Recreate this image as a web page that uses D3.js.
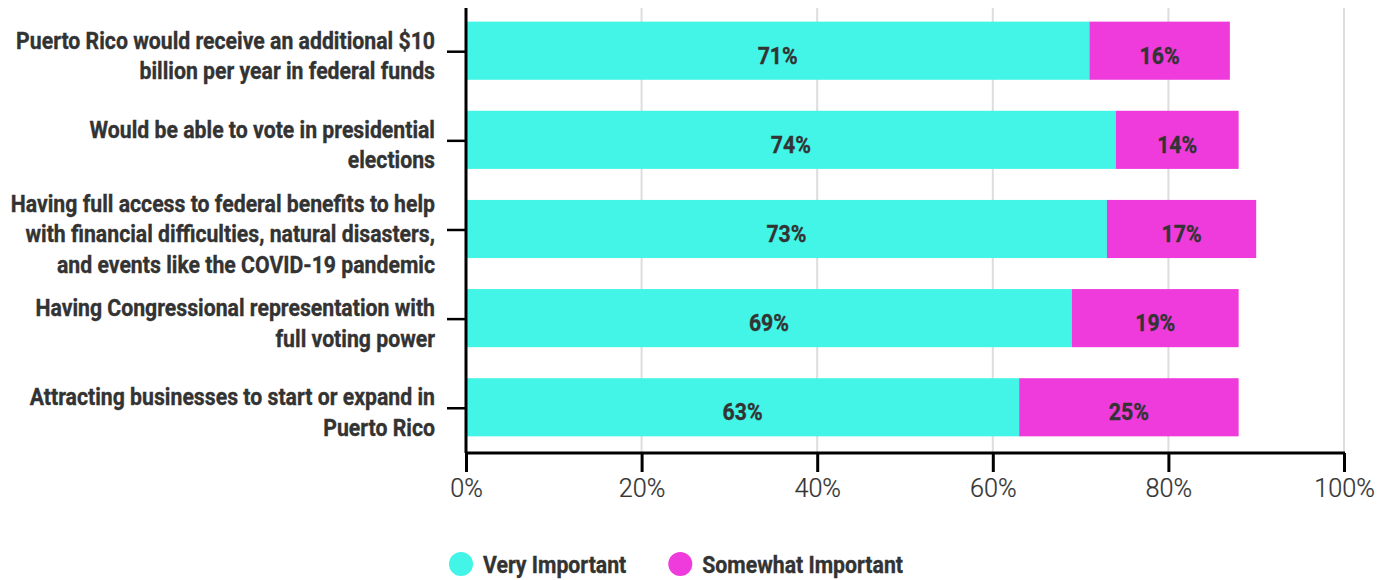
<!DOCTYPE html>
<html>
<head>
<meta charset="utf-8">
<script src="https://cdn.jsdelivr.net/npm/d3@7"></script>
<style>
  html, body { margin: 0; padding: 0; background: #fff; }
  svg { display: block; }
  text { font-family: Roboto, "Noto Sans", sans-serif; }
</style>
</head>
<body>
<svg id="chart" width="1388" height="580"></svg>
<script>
// ---- data ----
const categories = [
  "Puerto Rico would receive an additional $10\nbillion per year in federal funds",
  "Would be able to vote in presidential\nelections",
  "Having full access to federal benefits to help\nwith financial difficulties, natural disasters,\nand events like the COVID-19 pandemic",
  "Having Congressional representation with\nfull voting power",
  "Attracting businesses to start or expand in\nPuerto Rico"
];
const veryImportant = [71, 74, 73, 69, 63];
const somewhatImportant = [16, 14, 17, 19, 25];
const seriesNames = ["Very Important", "Somewhat Important"];
const seriesColors = ["#42F5E6", "#EF3BDC"];
const xTicks = [0, 20, 40, 60, 80, 100];

// ---- layout ----
const plotLeft = 466, plotRight = 1344, plotTop = 8, plotBottom = 453;
const condense = 0.885;
const textColor = "#333";
const boldStroke = 0.35;

const svg = d3.select("#chart");

const x = d3.scaleLinear().domain([0, 100]).range([plotLeft, plotRight]);
const y = d3.scaleBand().domain(d3.range(categories.length))
  .range([plotTop, plotBottom]).paddingInner(0.348).paddingOuter(0.17).align(0.45);

function boldText(sel) {
  return sel.attr("font-size", 24).attr("font-weight", 700)
    .attr("fill", textColor).attr("stroke", textColor).attr("stroke-width", boldStroke);
}

// gridlines
svg.append("g").selectAll("line").data(xTicks.filter(d => d > 0)).join("line")
  .attr("x1", d => x(d)).attr("x2", d => x(d))
  .attr("y1", plotTop).attr("y2", plotBottom)
  .attr("stroke", "#dddddd").attr("stroke-width", 2);

// stacked data
const stackData = categories.map((c, i) => ({ i, a: veryImportant[i], b: somewhatImportant[i] }));
const stack = d3.stack().keys(["a", "b"])(stackData);

const barG = svg.append("g");
stack.forEach((layer, k) => {
  barG.append("g").attr("fill", seriesColors[k])
    .selectAll("rect").data(layer).join("rect")
    .attr("x", d => x(d[0]))
    .attr("width", d => x(d[1]) - x(d[0]))
    .attr("y", d => y(d.data.i))
    .attr("height", y.bandwidth());
});

// value labels
stack.forEach((layer, k) => {
  barG.append("g").selectAll("text").data(layer).join("text")
    .attr("transform", d => `translate(${(x(d[0]) + x(d[1])) / 2},${y(d.data.i) + y.bandwidth() / 2 + 13}) scale(${condense},1)`)
    .attr("text-anchor", "middle")
    .call(boldText)
    .text(d => (d[1] - d[0]) + "%");
});

// x axis
const xAxis = svg.append("g").attr("transform", `translate(0,${plotBottom})`)
  .call(d3.axisBottom(x).tickValues(xTicks).tickSize(19).tickFormat(d => d + "%"));
xAxis.select(".domain").attr("stroke", "#000").attr("stroke-width", 3)
  .attr("d", `M${plotLeft - 1},0H${plotRight + 1}`);
xAxis.selectAll(".tick line").attr("stroke", "#000").attr("stroke-width", 3);
xAxis.selectAll(".tick text")
  .attr("y", 0).attr("dy", null)
  .attr("transform", `translate(0,44) scale(0.97,1)`)
  .attr("font-family", "Roboto, sans-serif")
  .attr("font-size", 26).attr("font-weight", 300)
  .attr("fill", textColor).attr("stroke", textColor).attr("stroke-width", 0.25);

// y axis
const yAxis = svg.append("g").attr("transform", `translate(${plotLeft},0)`)
  .call(d3.axisLeft(y).tickSize(19).tickFormat(() => ""));
yAxis.select(".domain").attr("stroke", "#000").attr("stroke-width", 3)
  .attr("d", `M0,${plotTop}V${plotBottom}`);
yAxis.selectAll(".tick line").attr("stroke", "#000").attr("stroke-width", 2.5)
  .attr("transform", "translate(0,1)");

// category labels
const labelG = svg.append("g");
categories.forEach((c, i) => {
  const lines = c.split("\n");
  const cy = y(i) + y.bandwidth() / 2;
  const first = cy + 13 - (lines.length - 1) * 15;
  lines.forEach((ln, j) => {
    labelG.append("text")
      .attr("transform", `translate(435,${first + j * 30.5}) scale(${condense},1)`)
      .attr("text-anchor", "end")
      .call(boldText)
      .text(ln);
  });
});

// legend
const legend = svg.append("g");
let lx = 461;
seriesNames.forEach((name, k) => {
  legend.append("circle").attr("cx", lx).attr("cy", 564).attr("r", 12)
    .attr("fill", seriesColors[k]);
  const t = legend.append("text")
    .attr("transform", `translate(${lx + 22},573) scale(${condense},1)`)
    .call(boldText)
    .text(name);
  const w = t.node().getComputedTextLength() * condense;
  lx = lx + 22 + w + 54;
});
</script>
</body>
</html>
